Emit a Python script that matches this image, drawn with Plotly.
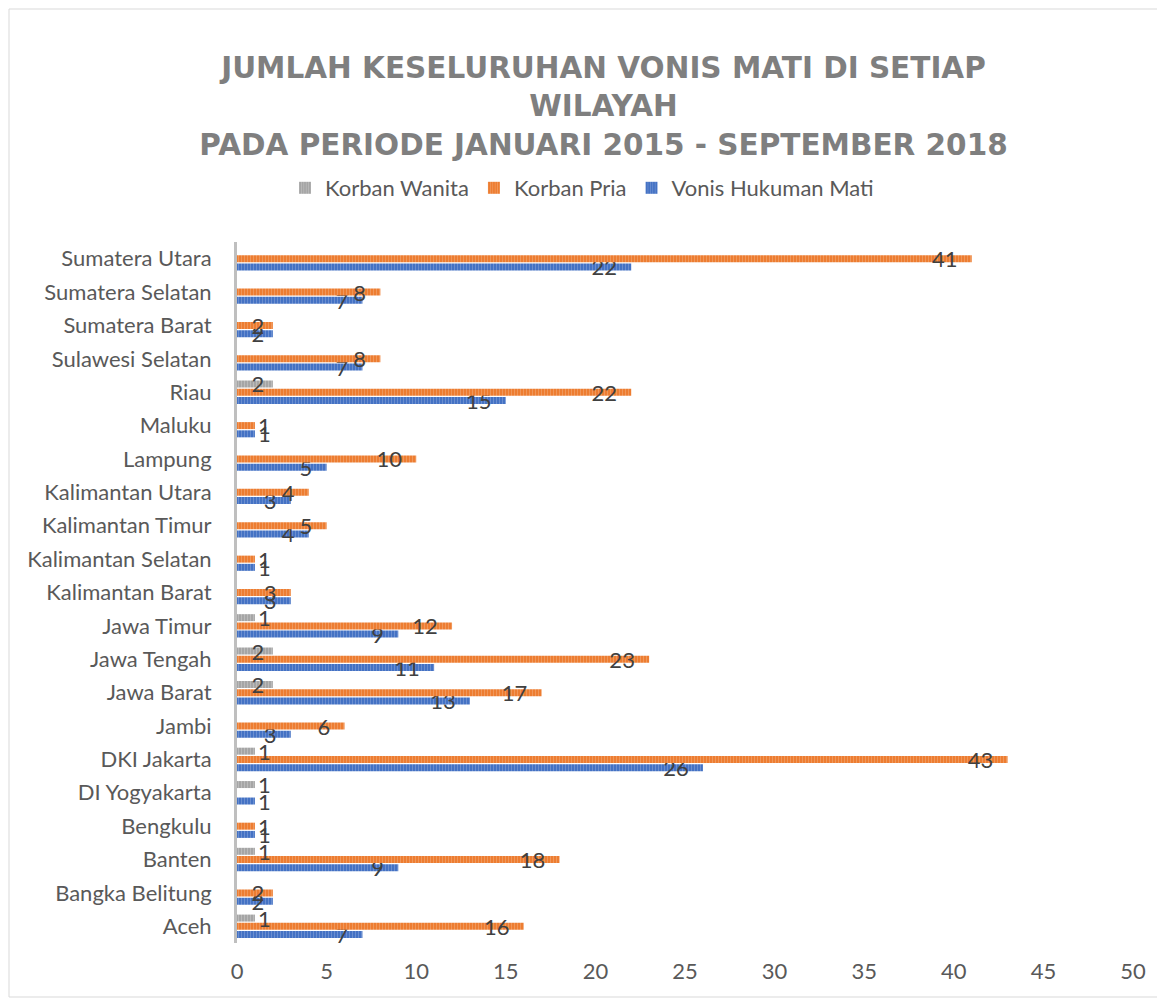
import plotly.graph_objects as go

regions = ["Aceh", "Bangka Belitung", "Banten", "Bengkulu", "DI Yogyakarta",
           "DKI Jakarta", "Jambi", "Jawa Barat", "Jawa Tengah", "Jawa Timur",
           "Kalimantan Barat", "Kalimantan Selatan", "Kalimantan Timur",
           "Kalimantan Utara", "Lampung", "Maluku", "Riau", "Sulawesi Selatan",
           "Sumatera Barat", "Sumatera Selatan", "Sumatera Utara"]

korban_wanita = [1, None, 1, None, 1, 1, None, 2, 2, 1,
                 None, None, None, None, None, None, 2, None, None, None, None]
korban_pria = [16, 2, 18, 1, None, 43, 6, 17, 23, 12,
               3, 1, 5, 4, 10, 1, 22, 8, 2, 8, 41]
vonis_mati = [7, 2, 9, 1, 1, 26, 3, 13, 11, 9,
              3, 1, 4, 3, 5, 1, 15, 7, 2, 7, 22]

x_ticks = [0, 5, 10, 15, 20, 25, 30, 35, 40, 45, 50]

FONT = "Lato"
NBSP = "\u00a0"
series = [
    ("Vonis Hukuman Mati", vonis_mati, "#4472C4", "#8FAADC"),
    ("Korban Pria", korban_pria, "#ED7D31", "#F4B183"),
    ("Korban Wanita", korban_wanita, "#A5A5A5", "#D0D0D0"),
]


def label_style(vals):
    # Excel-like "inside end" labels that never run past the axis
    pos, tmpl = [], []
    for v in vals:
        if v is None or v <= 1:
            pos.append("outside")
            tmpl.append("%{x}")
        elif v == 2:
            pos.append("inside")
            tmpl.append("%{x}" + NBSP)
        else:
            pos.append("inside")
            tmpl.append("%{x}" + NBSP * 2)
    return pos, tmpl


fig = go.Figure()
for name, vals, col, light in series:
    pos, tmpl = label_style(vals)
    fig.add_trace(go.Bar(
        y=regions, x=vals, name=name, orientation="h",
        marker=dict(color=col, line=dict(width=0),
                    pattern=dict(shape="|", fgcolor=light, bgcolor=col,
                                 size=3, solidity=0.35)),
        texttemplate=tmpl, textposition=pos, textangle=0,
        insidetextanchor="end", constraintext="none",
        textfont=dict(family=FONT, size=22, color="#404040"),
        cliponaxis=False,
    ))

# page has an 8px body margin: figure coordinate = reference pixel - 8
OFF = 8
W, H = 1165 - OFF, 999 - OFF
L, R, T, B = 237 - OFF, W - (1133 - OFF), 242 - OFF, H - (943 - OFF)
pw, ph = W - L - R, H - T - B

fig.update_layout(
    width=W, height=H,
    margin=dict(l=L, r=R, t=T, b=B),
    barmode="group", bargap=0.26, bargroupgap=0.15,
    paper_bgcolor="white", plot_bgcolor="white",
    font=dict(family=FONT, color="#595959", size=22),
    uniformtext=dict(minsize=22, mode="show"),
    title=dict(
        text="JUMLAH KESELURUHAN VONIS MATI DI SETIAP<br>WILAYAH<br>PADA PERIODE JANUARI 2015 - SEPTEMBER 2018",
        x=((199 + 1008) / 2 - OFF) / W, xanchor="center", xref="container",
        y=1 - 70 / H, yanchor="top", yref="container",
        font=dict(family="DejaVu Sans", size=29.5, color="#7F7F7F", weight="bold"),
    ),
    legend=dict(orientation="h", traceorder="reversed",
                x=(582 - OFF - L) / pw, xanchor="center",
                y=(H - B - (188 - OFF)) / ph, yanchor="middle",
                font=dict(family=FONT, size=22, color="#595959")),
    showlegend=True,
)
fig.update_xaxes(range=[0, 50], tickvals=x_ticks, showgrid=False, zeroline=False,
                 showline=False, ticks="outside", ticklen=9, tickcolor="rgba(0,0,0,0)",
                 tickfont=dict(family=FONT, size=22, color="#595959"))
fig.update_yaxes(type="category", categoryorder="array", categoryarray=regions,
                 range=[-0.5, 20.5], showgrid=False, zeroline=False,
                 showline=True, linecolor="#BFBFBF", linewidth=3,
                 ticks="outside", ticklen=18, tickcolor="rgba(0,0,0,0)",
                 tickfont=dict(family=FONT, size=22, color="#595959"))

fig.add_shape(type="rect", xref="paper", yref="paper",
              x0=(9 - OFF - L) / pw, x1=(1162 - OFF - L) / pw,
              y0=(H - B - (997 - OFF)) / ph, y1=(H - B - (9 - OFF)) / ph,
              line=dict(color="#D9D9D9", width=1), fillcolor="rgba(0,0,0,0)",
              layer="below")

fig.write_html("out.html")
